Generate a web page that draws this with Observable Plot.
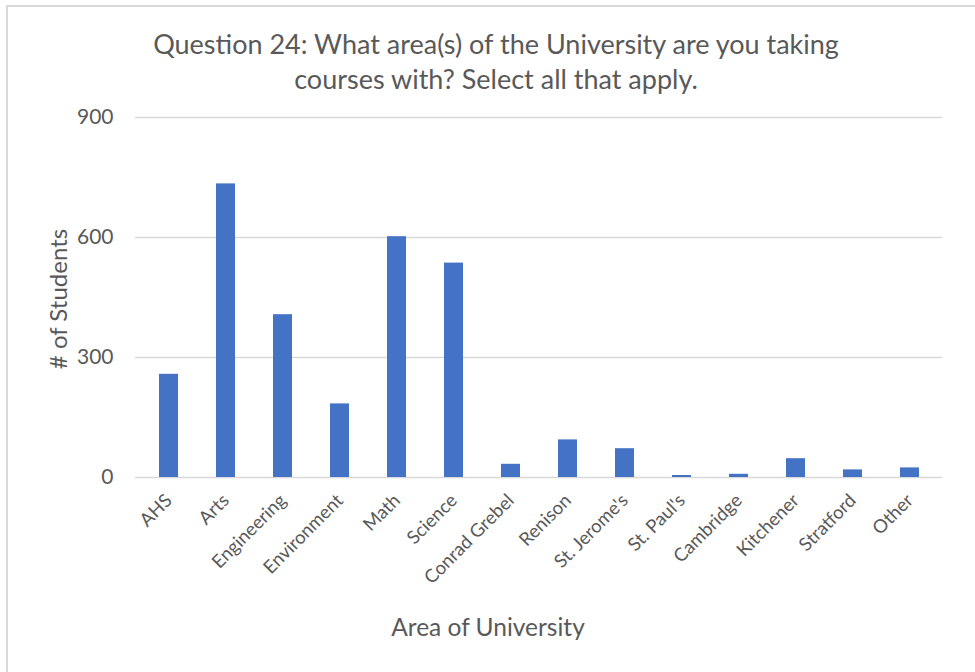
<!DOCTYPE html>
<html><head><meta charset="utf-8">
<script src="https://cdn.jsdelivr.net/npm/d3@7"></script>
<script src="https://cdn.jsdelivr.net/npm/@observablehq/plot@0.6"></script>
<style>
body{margin:0;background:#fff;font-family:Lato, sans-serif;}
#wrap{position:relative;width:975px;height:672px;overflow:hidden;background:#fff;}
#frame{position:absolute;left:6px;top:5px;width:1000px;height:700px;border-left:2px solid #d9d9d9;border-top:2px solid #d9d9d9;}
.t{position:absolute;color:#595959;white-space:nowrap;font-family:Lato, sans-serif;}
</style></head><body>
<div id="wrap">
<div id="frame"></div>
<div id="chart" style="position:absolute;left:0;top:0"></div>
<div class="t" style="left:0;width:992px;top:26px;text-align:center;font-size:27px;line-height:35px">Question 24: What area(s) of the University are you taking<br>courses with? Select all that apply.</div>
<div class="t" style="left:338px;top:612px;width:300px;text-align:center;font-size:24.5px">Area of University</div>
<div class="t" style="left:57px;top:299px;transform:translate(-50%,-50%) rotate(-90deg);font-size:24px"># of Students</div>
</div>
<script>
const areas = ["AHS","Arts","Engineering","Environment","Math","Science","Conrad Grebel","Renison","St. Jerome's","St. Paul's","Cambridge","Kitchener","Stratford","Other"];
const students = [258, 734, 407, 184, 602, 536, 33, 94, 72, 5, 8, 47, 19, 24];
const yTicks = [0, 300, 600, 900];
const data = areas.map((a, i) => ({area: a, n: students[i]}));
const chart = Plot.plot({
  width: 975, height: 672,
  marginTop: 117, marginBottom: 195, marginLeft: 135, marginRight: 33,
  style: {fontFamily: "Lato, sans-serif", color: "#595959", background: "transparent"},
  x: {domain: areas, paddingInner: 0.67, paddingOuter: 0.335, label: null},
  y: {domain: [0, 900], label: null},
  marks: [
    Plot.gridY(yTicks, {stroke: "#d9d9d9", strokeOpacity: 1, strokeWidth: 1.5}),
    Plot.barY(data, {x: "area", y: "n", fill: "#4472c4"}),
    Plot.axisY(yTicks, {tickSize: 0, tickPadding: 22, fontSize: 21, label: null}),
    Plot.axisX({tickSize: 0, tickRotate: -45, tickPadding: 20, fontSize: 18.5, label: null})
  ]
});
document.getElementById("chart").appendChild(chart);
</script>
</body></html>
